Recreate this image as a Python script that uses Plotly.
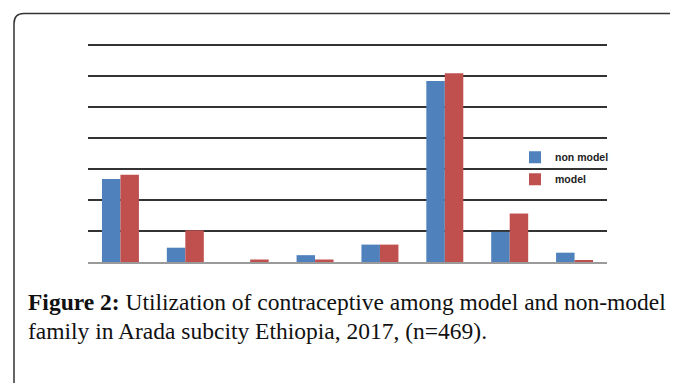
import plotly.graph_objects as go

# Data (values in % ; axis has no visible labels)
categories = ["A", "B", "C", "D", "E", "F", "G", "H"]
non_model = [26.7, 4.6, 0.0, 2.2, 5.6, 58.3, 9.7, 3.0]
model = [28.1, 10.2, 0.8, 0.8, 5.6, 60.8, 15.6, 0.5]
series_names = ["non model", "model"]
y_max, y_step = 70, 10

W, H = 678, 383
OFF = 8  # page body margin offset
L, R, B = 88, 607, 262  # plot area in page pixels
unit_px = 3.1           # pixels per value unit
y_top_range = y_max + 0.5
T = B - y_top_range * unit_px
pw, ph = R - L, B - T


def px(x):
    return (x - L) / pw


def py(y):
    return (B - y) / ph


fig = go.Figure()
fig.add_trace(go.Bar(x=categories, y=non_model, name=series_names[0],
                     legendgroup="g1",
                     marker=dict(color="#4F81BD", line=dict(width=0))))
fig.add_trace(go.Bar(x=categories, y=model, name=series_names[1],
                     legendgroup="g2",
                     marker=dict(color="#C0504D", line=dict(width=0))))

# rounded border frame
rx, ry = 10 / pw, 10 / ph
x0, y0 = px(14), py(14)
path = (f"M {x0},{py(400)} L {x0},{y0 - ry} Q {x0},{y0} {x0 + rx},{y0} "
        f"L {px(700)},{y0}")
shapes = [dict(type="path", xref="paper", yref="paper", path=path,
               line=dict(color="#333333", width=1.5), layer="above")]

cap_font = dict(family="Liberation Serif", size=23.5, color="#111111")
annotations = [
    dict(xref="paper", yref="paper", x=px(26), y=py(302), xanchor="left",
         yanchor="middle", showarrow=False,
         text="<b>Figure 2:</b> Utilization of contraceptive among model and non-model",
         font=cap_font),
    dict(xref="paper", yref="paper", x=px(26), y=py(331), xanchor="left",
         yanchor="middle", showarrow=False,
         text="family in Arada subcity Ethiopia, 2017, (n=469).",
         font=cap_font),
]

fig.update_layout(
    width=W - OFF, height=H - OFF, autosize=False,
    margin=dict(l=L - OFF, r=W - R, t=T - OFF, b=H - B, pad=0),
    paper_bgcolor="white", plot_bgcolor="white",
    barmode="group", bargap=0.43, bargroupgap=0,
    showlegend=True,
    legend=dict(x=px(515), y=py(143), xanchor="left", yanchor="top",
                font=dict(family="Liberation Sans", size=10.5, color="#222222",
                          weight="bold"),
                traceorder="grouped", tracegroupgap=3,
                bgcolor="rgba(0,0,0,0)", itemwidth=30),
    shapes=shapes, annotations=annotations,
)
fig.update_xaxes(showticklabels=False, ticks="", showgrid=False,
                 showline=True, linecolor="#9a9a9a", linewidth=2,
                 range=[-0.5, len(categories) - 0.5])
fig.update_yaxes(range=[0, y_top_range], dtick=y_step, tick0=0,
                 showticklabels=False, ticks="",
                 showgrid=True, gridcolor="#333333", gridwidth=1.5,
                 zeroline=False, showline=False)

fig.write_html("out.html")
